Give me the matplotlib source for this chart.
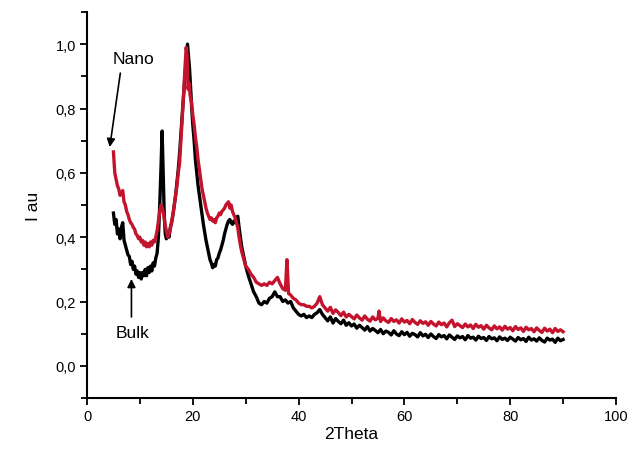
import matplotlib
matplotlib.use("Agg")
import matplotlib.pyplot as plt
from matplotlib.ticker import MultipleLocator, FuncFormatter

plt.rcParams['font.family'] = ['Liberation Sans', 'DejaVu Sans']

# Bulk pattern (2Theta, intensity)
bulk_x = [5.0, 5.25, 5.5, 5.75, 6.0, 6.25, 6.5, 6.75, 7.0, 7.25, 7.5, 7.75, 8.0, 8.25, 8.5, 8.75,
          9.0, 9.25, 9.5, 9.75, 10.0, 10.25, 10.5, 10.75, 11.0, 11.25, 11.5, 11.75, 12.0, 12.25,
          12.5, 12.75, 13.0, 13.25, 13.5, 13.75, 14.0, 14.2, 14.4, 14.6, 14.8, 15.0, 15.25, 15.5,
          15.75, 16.0, 16.25, 16.5, 16.75, 17.0, 17.25, 17.5, 17.75, 18.0, 18.25, 18.5, 18.75, 19.0,
          19.2, 19.4, 19.6, 19.8, 20.0, 20.25, 20.5, 20.75, 21.0, 21.25, 21.5, 21.75, 22.0, 22.25,
          22.5, 22.75, 23.0, 23.25, 23.5, 23.75, 24.0, 24.25, 24.5, 24.75, 25.0, 25.25, 25.5, 25.75,
          26.0, 26.25, 26.5, 26.75, 27.0, 27.25, 27.5, 27.75, 28.0, 28.25, 28.5, 28.75, 29.0, 29.25,
          29.5, 29.75, 30.0, 30.5, 31.0, 31.5, 32.0, 32.5, 33.0, 33.5, 34.0, 34.5, 35.0, 35.5, 36.0,
          36.5, 37.0, 37.5, 38.0, 38.5, 39.0, 39.5, 40.0, 40.5, 41.0, 41.5, 42.0, 42.5, 43.0, 43.5,
          44.0, 44.5, 45.0,
          45.5, 46.0, 46.5, 47.0, 47.5, 48.0, 48.5, 49.0, 49.5, 50.0,
          50.5, 51.0, 51.5, 52.0, 52.5, 53.0, 53.5, 54.0, 54.5, 55.0,
          55.5, 56.0, 56.5, 57.0, 57.5, 58.0, 58.5, 59.0, 59.5, 60.0,
          60.5, 61.0, 61.5, 62.0, 62.5, 63.0, 63.5, 64.0, 64.5, 65.0,
          65.5, 66.0, 66.5, 67.0, 67.5, 68.0, 68.5, 69.0, 69.5, 70.0,
          70.5, 71.0, 71.5, 72.0, 72.5, 73.0, 73.5, 74.0, 74.5, 75.0,
          75.5, 76.0, 76.5, 77.0, 77.5, 78.0, 78.5, 79.0, 79.5, 80.0,
          80.5, 81.0, 81.5, 82.0, 82.5, 83.0, 83.5, 84.0, 84.5, 85.0,
          85.5, 86.0, 86.5, 87.0, 87.5, 88.0, 88.5, 89.0, 89.5, 90.0]
bulk_y = [0.475, 0.44, 0.455, 0.41, 0.425, 0.395, 0.43, 0.445, 0.39, 0.375, 0.36, 0.345, 0.34, 0.315,
          0.325, 0.30, 0.31, 0.285, 0.295, 0.275, 0.29, 0.27, 0.29, 0.28, 0.30, 0.28, 0.305, 0.29,
          0.31, 0.295, 0.32, 0.31, 0.335, 0.35, 0.40, 0.50, 0.62, 0.73, 0.60, 0.47, 0.41, 0.395,
          0.41, 0.40, 0.43, 0.445, 0.47, 0.50, 0.53, 0.57, 0.61, 0.66, 0.72, 0.78, 0.84, 0.90, 0.95,
          1.0, 0.96, 0.92, 0.86, 0.80, 0.75, 0.70, 0.64, 0.60, 0.56, 0.53, 0.50, 0.47, 0.44, 0.415,
          0.39, 0.37, 0.35, 0.33, 0.32, 0.305, 0.315, 0.31, 0.33, 0.335, 0.35, 0.36, 0.375, 0.39,
          0.41, 0.425, 0.44, 0.45, 0.455, 0.445, 0.44, 0.45, 0.445, 0.46, 0.465, 0.43, 0.40, 0.37,
          0.35, 0.33, 0.31, 0.28, 0.255, 0.23, 0.215, 0.195, 0.19, 0.20, 0.195, 0.21, 0.215, 0.23,
          0.215, 0.215, 0.20, 0.205, 0.195, 0.20, 0.18, 0.17, 0.16, 0.155, 0.16, 0.15, 0.155, 0.15,
          0.16, 0.165, 0.175, 0.16, 0.15,
          0.14, 0.152, 0.133, 0.147, 0.138, 0.131, 0.142, 0.126, 0.134, 0.124,
          0.13, 0.117, 0.126, 0.119, 0.111, 0.122, 0.108, 0.116, 0.11, 0.103,
          0.113, 0.1, 0.108, 0.104, 0.096, 0.109, 0.099, 0.094, 0.106, 0.097,
          0.104, 0.092, 0.101, 0.097, 0.09, 0.103, 0.093, 0.098, 0.088, 0.099,
          0.091, 0.085, 0.097, 0.09, 0.094, 0.084, 0.096, 0.089, 0.082, 0.093,
          0.087, 0.091, 0.081, 0.094, 0.086, 0.089, 0.08, 0.092, 0.085, 0.088,
          0.079, 0.091, 0.084, 0.087, 0.078, 0.09, 0.082, 0.086, 0.079, 0.089,
          0.083, 0.077, 0.088, 0.081, 0.085, 0.076, 0.089, 0.08, 0.084, 0.077,
          0.087, 0.079, 0.074, 0.086, 0.08, 0.083, 0.073, 0.086, 0.078, 0.082]

# Nano pattern (2Theta, intensity)
nano_x = [5.0, 5.25, 5.5, 5.75, 6.0, 6.25, 6.5, 6.75, 7.0, 7.25, 7.5, 7.75, 8.0, 8.25, 8.5, 8.75,
          9.0, 9.25, 9.5, 9.75, 10.0, 10.25, 10.5, 10.75, 11.0, 11.25, 11.5, 11.75, 12.0, 12.25,
          12.5, 12.75, 13.0, 13.25, 13.5, 13.75, 14.0, 14.25, 14.5, 14.75, 15.0, 15.25, 15.5, 15.75,
          16.0, 16.25, 16.5, 16.75, 17.0, 17.25, 17.5, 17.75, 18.0, 18.25, 18.5, 18.75, 18.9, 19.1,
          19.3, 19.5, 19.75, 20.0, 20.25, 20.5, 20.75, 21.0, 21.25, 21.5, 21.75, 22.0, 22.25, 22.5,
          22.75, 23.0, 23.25, 23.5, 23.75, 24.0, 24.25, 24.5, 24.75, 25.0, 25.25, 25.5, 25.75, 26.0,
          26.25, 26.5, 26.75, 27.0, 27.25, 27.5, 27.75, 28.0, 28.25, 28.5, 28.75, 29.0, 29.25, 29.5,
          29.75, 30.0, 30.5, 31.0, 31.5, 32.0, 32.5, 33.0, 33.5, 34.0, 34.5, 35.0, 35.5, 36.0, 36.5,
          37.0, 37.5, 37.8, 38.1, 38.5, 39.0, 39.5, 40.0, 40.5, 41.0, 41.5, 42.0, 42.5, 43.0, 43.5,
          44.0, 44.5, 45.0,
          45.5, 46.0, 46.5, 47.0, 47.5, 48.0, 48.5, 49.0, 49.5, 50.0,
          50.5, 51.0, 51.5, 52.0, 52.5, 53.0, 53.5, 54.0, 54.5, 55.0,
          55.2, 55.5, 56.0, 56.5, 57.0, 57.5, 58.0, 58.5, 59.0, 59.5, 60.0,
          60.5, 61.0, 61.5, 62.0, 62.5, 63.0, 63.5, 64.0, 64.5, 65.0,
          65.5, 66.0, 66.5, 67.0, 67.5, 68.0, 68.5, 69.0, 69.5, 70.0,
          70.5, 71.0, 71.5, 72.0, 72.5, 73.0, 73.5, 74.0, 74.5, 75.0,
          75.5, 76.0, 76.5, 77.0, 77.5, 78.0, 78.5, 79.0, 79.5, 80.0,
          80.5, 81.0, 81.5, 82.0, 82.5, 83.0, 83.5, 84.0, 84.5, 85.0,
          85.5, 86.0, 86.5, 87.0, 87.5, 88.0, 88.5, 89.0, 89.5, 90.0]
nano_y = [0.665, 0.60, 0.58, 0.56, 0.55, 0.53, 0.535, 0.545, 0.51, 0.50, 0.48, 0.47, 0.455, 0.445,
          0.44, 0.43, 0.425, 0.41, 0.405, 0.395, 0.40, 0.385, 0.39, 0.375, 0.385, 0.37, 0.38, 0.37,
          0.385, 0.375, 0.39, 0.385, 0.40, 0.42, 0.45, 0.48, 0.50, 0.49, 0.47, 0.44, 0.42, 0.40,
          0.41, 0.425, 0.45, 0.47, 0.50, 0.53, 0.56, 0.60, 0.63, 0.70, 0.77, 0.84, 0.92, 0.99, 0.97,
          0.86, 0.88, 0.84, 0.82, 0.78, 0.75, 0.71, 0.68, 0.64, 0.61, 0.58, 0.55, 0.53, 0.51, 0.49,
          0.475, 0.465, 0.455, 0.46, 0.45, 0.455, 0.445, 0.46, 0.465, 0.475, 0.47, 0.48, 0.485, 0.49,
          0.50, 0.505, 0.51, 0.49, 0.50, 0.48, 0.47, 0.46, 0.445, 0.43, 0.40, 0.375, 0.355, 0.34,
          0.325, 0.31, 0.30, 0.285, 0.275, 0.26, 0.255, 0.25, 0.255, 0.25, 0.26, 0.255, 0.265, 0.275,
          0.255, 0.24, 0.235, 0.33, 0.225, 0.22, 0.21, 0.205, 0.195, 0.19, 0.19, 0.185, 0.185, 0.18,
          0.185, 0.195, 0.215, 0.19, 0.18,
          0.17, 0.182, 0.163, 0.174, 0.166, 0.156, 0.167, 0.152, 0.16, 0.153,
          0.146, 0.158, 0.149, 0.142, 0.155, 0.145, 0.139, 0.152, 0.143, 0.148,
          0.17, 0.138, 0.149, 0.14, 0.135, 0.147, 0.138, 0.143, 0.133, 0.146, 0.136,
          0.141, 0.131, 0.144, 0.135, 0.129, 0.14, 0.132, 0.137, 0.126, 0.138,
          0.13, 0.124, 0.136, 0.128, 0.133, 0.121, 0.134, 0.142, 0.122, 0.131,
          0.125, 0.119, 0.13, 0.121, 0.127, 0.116, 0.129, 0.12, 0.125, 0.114,
          0.126, 0.118, 0.112, 0.124, 0.115, 0.121, 0.111, 0.123, 0.114, 0.119,
          0.109, 0.122, 0.113, 0.118, 0.107, 0.12, 0.112, 0.116, 0.106, 0.118,
          0.11, 0.104, 0.117, 0.108, 0.114, 0.103, 0.116, 0.107, 0.112, 0.106]

x_ticks = [0, 20, 40, 60, 80, 100]
y_ticks = [0.0, 0.2, 0.4, 0.6, 0.8, 1.0]

W, H = 631, 452
fig = plt.figure(figsize=(W / 100, H / 100), dpi=100)
ax = fig.add_axes([87 / W, 1 - 399 / H, (616 - 87) / W, (399 - 13) / H])

ax.plot(bulk_x, bulk_y, color='black', lw=2.4)
ax.plot(nano_x, nano_y, color='#c4132d', lw=2.4)

ax.set_xlim(0, 100)
ax.set_ylim(-0.1, 1.1)
ax.set_xticks(x_ticks)
ax.set_yticks(y_ticks)
ax.xaxis.set_minor_locator(MultipleLocator(10))
ax.yaxis.set_minor_locator(MultipleLocator(0.1))
ax.yaxis.set_major_formatter(FuncFormatter(lambda v, p: f"{v:.1f}".replace('.', ',')))

for s in ('top', 'right'):
    ax.spines[s].set_visible(False)
for s in ('left', 'bottom'):
    ax.spines[s].set_linewidth(1.5)

ax.tick_params(axis='both', which='major', direction='out', length=5, width=1.3,
               labelsize=10.5, colors='black', pad=3)
ax.tick_params(axis='both', which='minor', direction='out', length=4, width=1.3)

ax.set_xlabel('2Theta', fontsize=12.5, labelpad=2)
ax.set_ylabel('I au', fontsize=12.5, labelpad=10)

# Labels with arrows pointing at each trace
ax.text(8.8, 0.955, 'Nano', ha='center', va='center', fontsize=12.5)
ax.annotate('', xy=(4.3, 0.68), xytext=(6.3, 0.91),
            arrowprops=dict(arrowstyle='-|>', color='black', lw=1.2, mutation_scale=12,
                            shrinkA=0, shrinkB=0))
ax.text(8.7, 0.105, 'Bulk', ha='center', va='center', fontsize=12.5)
ax.annotate('', xy=(8.4, 0.27), xytext=(8.4, 0.152),
            arrowprops=dict(arrowstyle='-|>', color='black', lw=1.2, mutation_scale=12,
                            shrinkA=0, shrinkB=0))

fig.savefig('out.png', dpi=100)
